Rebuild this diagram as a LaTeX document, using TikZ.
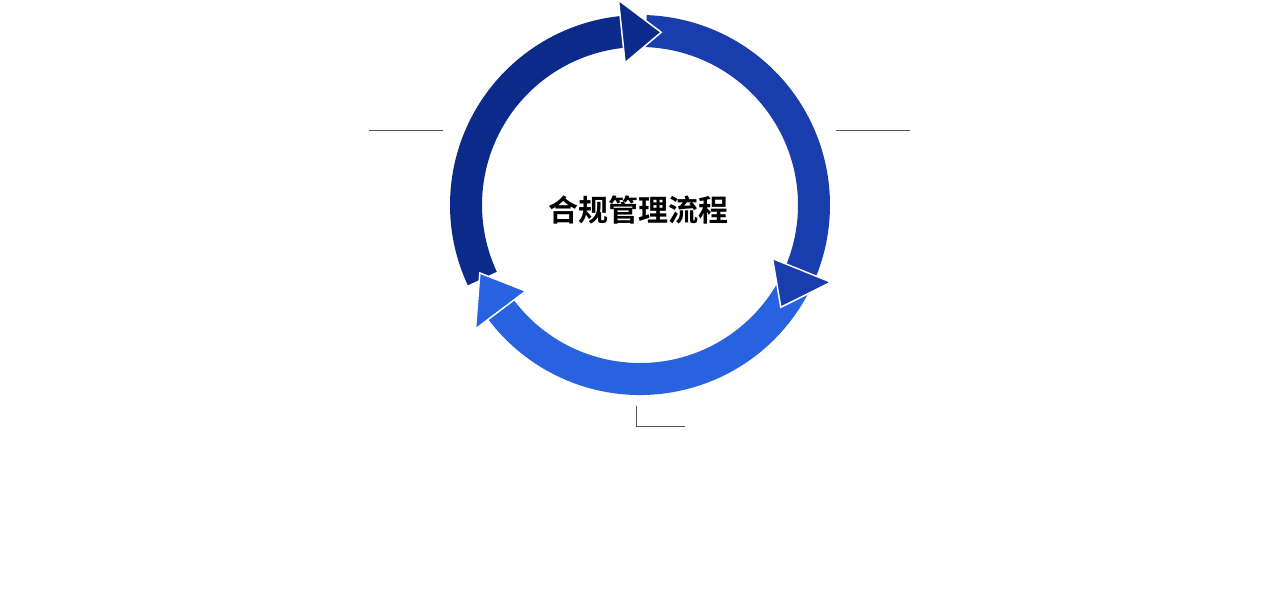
\documentclass[tikz,border=0pt]{standalone}
\usepackage{fontspec}
\newfontfamily\cjk{Noto Sans CJK SC Bold}
\definecolor{cA}{HTML}{0C2A8A}
\definecolor{cB}{HTML}{1A3DAD}
\definecolor{cC}{HTML}{2862E0}
\definecolor{ln}{HTML}{555555}
\tikzset{body/.style={draw=none},head/.style={draw=white,line width=1.5pt,line join=miter},thin/.style={draw=ln,line width=0.6pt}}
\newcommand{\arrbody}[3]{\fill[#3] (#1:190) arc[start angle=#1,end angle=#2,radius=190] -- (#2:158) arc[start angle=#2,end angle=#1,radius=158] -- cycle;}
\newcommand{\arrhead}[3]{\filldraw[head,fill=#3] (#1:143) -- (#1:206) -- (#2:174) -- cycle;}
\begin{document}
\begin{tikzpicture}[x=1pt,y=1pt]
\useasboundingbox (0,0) rectangle (1274,605);
\begin{scope}[shift={(640,400)}]
\arrbody{205}{95}{cA}
\arrbody{88}{-23}{cB}
\arrbody{-28}{-145}{cC}
\arrhead{96}{83}{cA}
\arrhead{-22}{-36}{cB}
\arrhead{-143}{-157}{cC}
\node (t) at (-2,-5) {\cjk\fontsize{30}{36}\selectfont 合规管理流程};
\end{scope}
\coordinate (l1) at (369,475); \coordinate (l2) at (443,475);
\coordinate (r1) at (836,475); \coordinate (r2) at (910,475);
\coordinate (b1) at (636,199); \coordinate (b2) at (636,179); \coordinate (b3) at (685,179);
\draw[thin] (l1) -- (l2);
\draw[thin] (r1) -- (r2);
\draw[thin] (b1) -- (b2) -- (b3);
\end{tikzpicture}
\end{document}
